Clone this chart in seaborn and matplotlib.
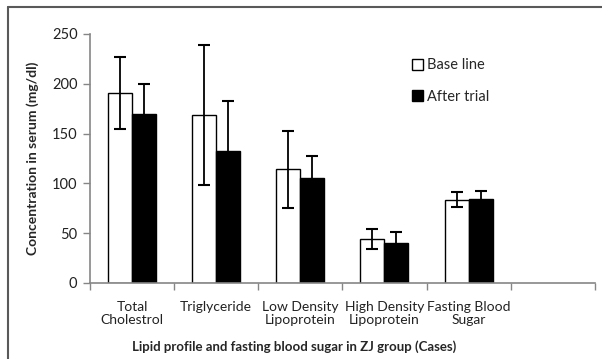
import numpy as np
import pandas as pd
import matplotlib.pyplot as plt
from matplotlib.lines import Line2D
import seaborn as sns

# Datos
categorias = ["Total\nCholestrol", "Triglyceride", "Low Density\nLipoprotein",
              "High Density\nLipoprotein", "Fasting Blood\nSugar"]
grupos = ["Base line", "After trial"]
media_base = [190.5, 168.5, 114, 44, 83.5]
media_despues = [170, 133, 105, 40, 84]
de_base = [36, 70, 38.5, 10, 7.5]
de_despues = [29.5, 50, 23, 11.5, 8.5]

sns.set_theme(style="white")
plt.rcParams['font.family'] = ['Lato', 'DejaVu Sans']

df = pd.DataFrame({
    "categoria": categorias * 2,
    "grupo": [grupos[0]] * 5 + [grupos[1]] * 5,
    "valor": media_base + media_despues,
})

fig = plt.figure(figsize=(6.02, 3.59), dpi=100)
ax = fig.add_axes([0.1495, 0.2117, 0.8385, 0.6936])

sns.barplot(data=df, x="categoria", y="valor", hue="grupo", order=categorias,
            hue_order=grupos, palette=["white", "black"], edgecolor="black",
            linewidth=1.0, width=0.57, errorbar=None, ax=ax)

# Barras de error (desviación estándar)
for cont, de in zip(ax.containers, [de_base, de_despues]):
    xs = [p.get_x() + p.get_width() / 2 for p in cont.patches]
    hs = [p.get_height() for p in cont.patches]
    ax.errorbar(xs, hs, yerr=de, fmt="none", ecolor="black", elinewidth=1.3,
                capsize=4.5, capthick=1.5, zorder=5)

ax.set_xlim(-0.5, 5.5)
ax.set_ylim(0, 250)
ax.set_yticks(np.arange(0, 251, 50))
ax.set_xticks(range(len(categorias)))
ax.set_xticklabels(categorias, fontsize=10, color="#222222", linespacing=1.1)
ax.set_xticks(np.arange(-0.5, 6, 1), minor=True)
ax.tick_params(axis="x", which="major", length=0, pad=13)
ax.tick_params(axis="x", which="minor", length=5, color="#868686", width=1, bottom=True)
ax.tick_params(axis="y", length=5, color="#868686", width=1, left=True,
               labelsize=10.5, labelcolor="#222222", pad=4)

for s in ["top", "right"]:
    ax.spines[s].set_visible(False)
for s in ["left", "bottom"]:
    ax.spines[s].set_color("#868686")
    ax.spines[s].set_linewidth(1.2)

ax.set_xlabel("Lipid profile and fasting blood sugar in ZJ group (Cases)",
              fontsize=9.5, fontweight="bold")
ax.xaxis.set_label_coords(0.404, -0.23)
ax.set_ylabel("Concentration in serum (mg/dl)", fontsize=10, fontweight="bold",
              labelpad=9)

leg = ax.legend(loc="upper left", bbox_to_anchor=(0.612, 0.955), frameon=False,
                handlelength=0.75, handleheight=0.75, handletextpad=0.3,
                labelspacing=1.2, fontsize=10.5)

# Marco exterior
fig.add_artist(Line2D([8 / 602, 1], [1 - 7 / 359] * 2, color="#595959", lw=1.5))
fig.add_artist(Line2D([8 / 602] * 2, [0, 1 - 7 / 359], color="#595959", lw=1.5))

fig.savefig("out.png", dpi=100)
